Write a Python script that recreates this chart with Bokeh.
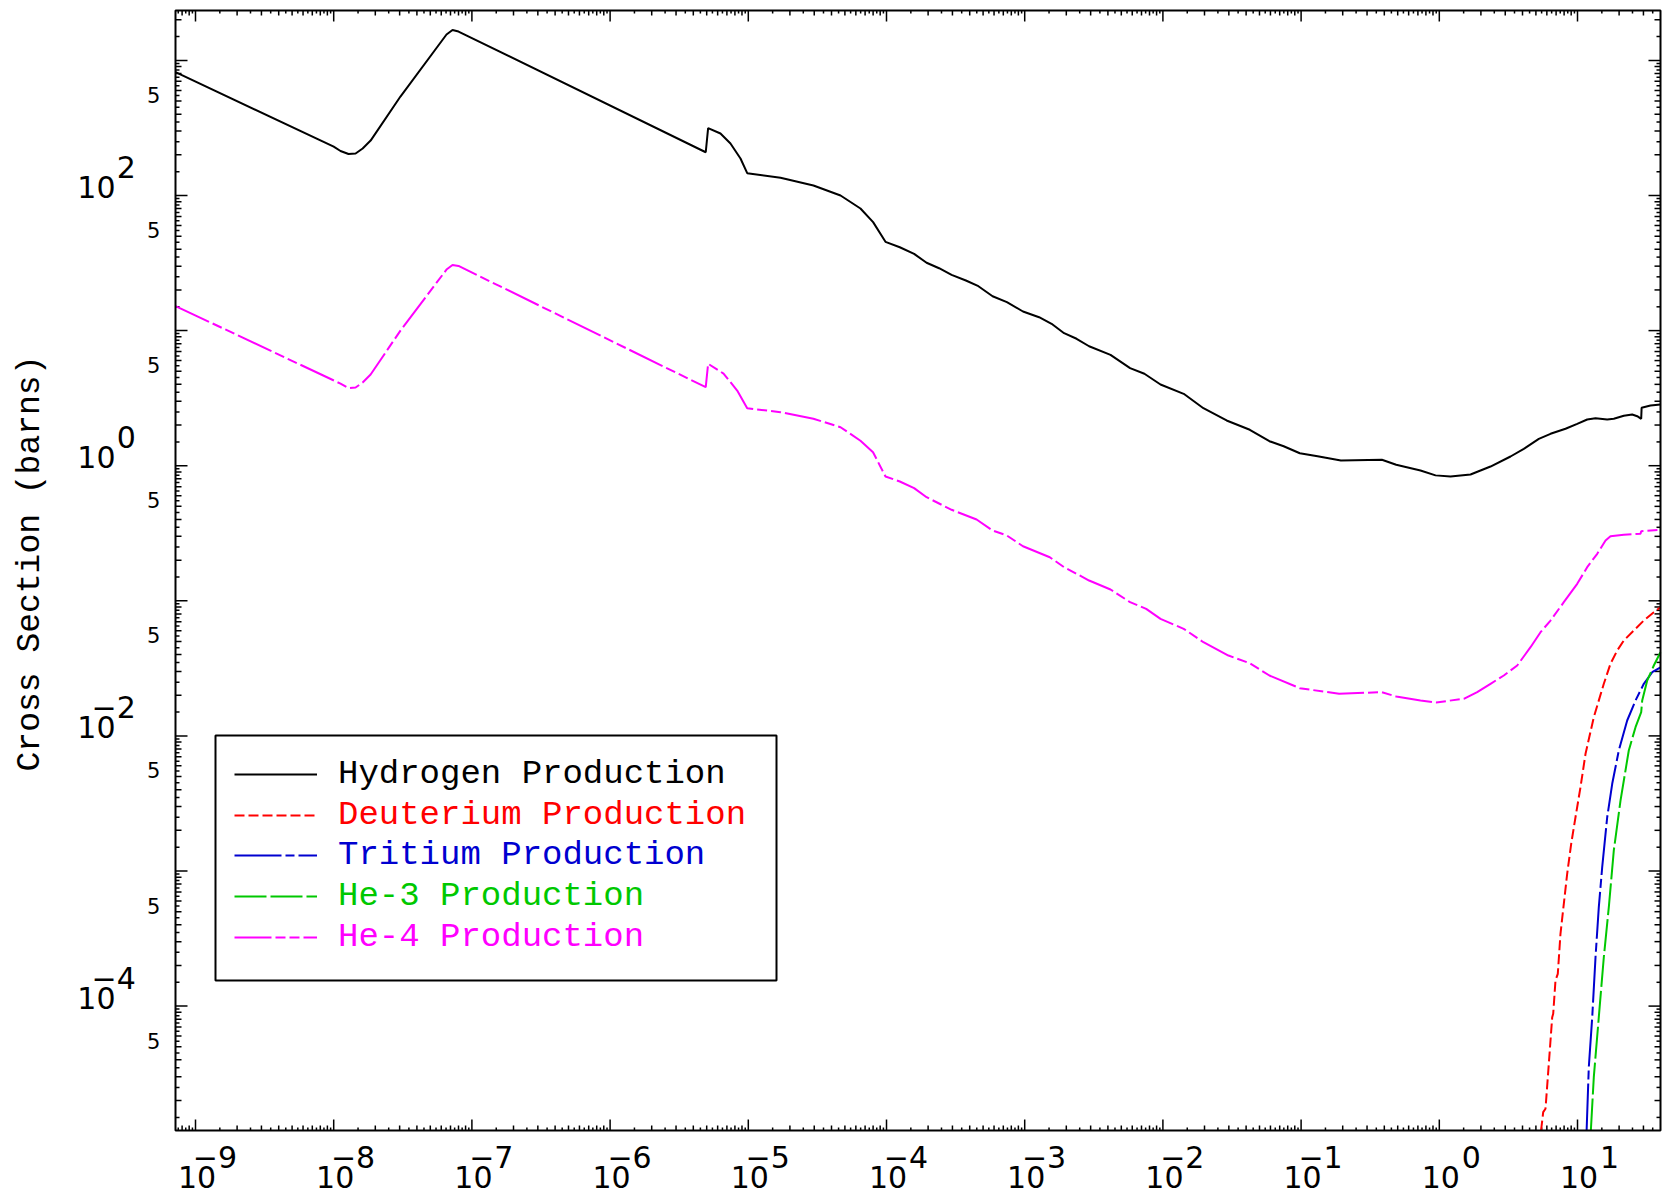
from math import pi, log10
from bokeh.plotting import figure
from bokeh.models import Range1d, Label, Legend, LegendItem, BoxAnnotation
from bokeh.embed import file_html
from bokeh.resources import INLINE

# ---------------- data (energy in MeV, cross section in barns) ----------------
h_energy = [7.17e-10, 1.0e-8, 1.12e-8, 1.28e-8, 1.44e-8, 1.62e-8, 1.85e-8, 3.04e-8,
            6.55e-8, 7.24e-8, 8.0e-8, 4.92e-6, 5.12e-6, 6.29e-6, 7.43e-6, 8.78e-6,
            9.82e-6, 1.71e-5, 2.96e-5, 4.65e-5, 6.48e-5, 8.0e-5, 9.83e-5, 1.248e-4,
            1.584e-4, 1.95e-4, 2.402e-4, 2.958e-4, 3.754e-4, 4.624e-4, 5.856e-4,
            7.434e-4, 9.72e-4, 1.271e-3, 1.565e-3, 1.928e-3, 2.374e-3, 2.924e-3,
            4.177e-3, 5.788e-3, 7.348e-3, 9.61e-3, 1.414e-2, 1.964e-2, 2.89e-2,
            4.254e-2, 5.897e-2, 7.482e-2, 9.79e-2, 0.1316, 0.1941, 0.3843, 0.4876,
            0.731, 0.939, 1.205, 1.682, 2.347, 3.275, 4.087, 5.248, 6.377, 8.19,
            9.95, 11.75, 13.5, 16.4, 18.31, 21.63, 24.88, 27.04, 28.9, 29.1, 33.75,
            39.86]
h_xs = [818, 230, 213.5, 203, 204.5, 223, 255, 540,
        1555, 1680, 1636, 209, 315, 287.6, 242.6, 187.9,
        146.3, 135.2, 118.6, 100, 80.1, 63.5, 45.4, 41.4,
        37.0, 31.8, 28.96, 25.88, 23.49, 21.31, 17.97,
        16.23, 13.85, 12.57, 11.23, 9.57, 8.70, 7.66,
        6.62, 5.27, 4.79, 3.99, 3.405, 2.665, 2.161,
        1.844, 1.518, 1.394, 1.237, 1.176, 1.093, 1.106, 1.016,
        0.922, 0.848, 0.832, 0.861, 0.986, 1.17, 1.334, 1.581, 1.722, 1.876,
        2.042, 2.198, 2.247, 2.198, 2.224, 2.341, 2.393, 2.325, 2.224, 2.683, 2.79,
        2.84]

he4_energy = [7.17e-10, 1.12e-8, 1.28e-8, 1.44e-8, 1.62e-8, 1.85e-8, 3.04e-8, 6.55e-8,
              7.24e-8, 8.0e-8, 4.92e-6, 5.12e-6, 6.62e-6, 8.31e-6, 9.82e-6, 1.71e-5,
              2.96e-5, 4.65e-5, 6.48e-5, 7.99e-5, 9.83e-5, 1.248e-4, 1.584e-4, 1.95e-4,
              2.958e-4, 4.487e-4, 5.856e-4, 7.434e-4, 9.72e-4, 1.519e-3, 1.928e-3,
              2.924e-3, 4.177e-3, 5.788e-3, 7.571e-3, 9.61e-3, 1.414e-2, 1.964e-2,
              2.979e-2, 4.254e-2, 5.897e-2, 9.79e-2, 0.1884, 0.3843, 0.4876, 0.731,
              0.95, 1.504, 1.88, 2.347, 2.929, 3.662, 4.571, 5.4, 6.377, 7.96, 9.95,
              11.75, 13.89, 15.95, 17.33, 21.63, 28.57, 28.9, 39.86]
he4_xs = [15.2, 4.05, 3.75, 3.79, 4.13, 4.73, 10.0, 28.3,
          30.6, 30.1, 3.81, 5.68, 4.81, 3.60, 2.665, 2.489,
          2.224, 1.927, 1.53, 1.259, 0.832, 0.764, 0.6817, 0.5844,
          0.4716, 0.3996, 0.3314, 0.3043, 0.2535, 0.2102, 0.1773,
          0.1413, 0.1213, 0.09765, 0.08724, 0.07357, 0.06204, 0.04938,
          0.03936, 0.03451, 0.028, 0.02254, 0.0205, 0.02106, 0.01957, 0.01828,
          0.0177, 0.01882, 0.02106, 0.0243, 0.028, 0.0332, 0.04535, 0.05856, 0.07145,
          0.09765, 0.1336, 0.1773, 0.2228, 0.2794, 0.3007, 0.3079, 0.3132, 0.3274, 0.3353]

d_energy = [5.45, 5.646, 5.867, 6.2, 6.56, 6.67, 6.93, 7.2, 7.53, 7.96, 8.42, 9.0,
            9.67, 10.51, 11.43, 13.12, 15.5, 17.33, 19.38, 21.63, 25.55, 30.19,
            35.66, 39.86]
d_xs = [1.2e-5, 1.64e-5, 1.74e-5, 3.74e-5, 8.28e-5, 8.77e-5, 1.55e-4, 1.73e-4,
        3.43e-4, 5.72e-4, 9.54e-4, 1.59e-3, 2.50e-3, 4.17e-3, 7.37e-3, 0.01375,
        0.0243, 0.0342, 0.0429, 0.0508, 0.0603, 0.0715, 0.0823, 0.0897]

t_energy = [11.64, 12.07, 12.78, 13.5, 14.26, 15.09, 16.4, 17.83, 19.9, 22.88,
            26.29, 30.19, 34.72, 39.86]
t_xs = [1.2e-5, 3.53e-5, 8.28e-5, 2.30e-4, 5.40e-4, 1.067e-3, 2.50e-3, 4.42e-3,
        7.80e-3, 0.0130, 0.01828, 0.0243, 0.0296, 0.0322]

he3_energy = [12.49, 13.12, 14.26, 15.5, 16.85, 18.31, 20.47, 23.5, 26.29, 28.9,
              29.39, 31.94, 35.66, 39.86]
he3_xs = [1.2e-5, 2.98e-5, 8.28e-5, 2.30e-4, 5.40e-4, 1.42e-3, 3.32e-3, 7.80e-3,
          0.0116, 0.0150, 0.0183, 0.0257, 0.0332, 0.0416]

series_labels = ["Hydrogen Production", "Deuterium Production", "Tritium Production",
                 "He-3 Production", "He-4 Production"]
series_colors = ["#000000", "#ff0000", "#0000d0", "#00c800", "#ff00ff"]
series_dashes = ["solid", "10 4", "47 4 9 4", "32 4", "37 4 10 4 10 4"]

x_label_exponents = [-9, -8, -7, -6, -5, -4, -3, -2, -1, 0, 1]
y_label_exponents = [2, 0, -2, -4]
y_five_values = [500, 50, 5, 0.5, 0.05, 0.005, 5e-4, 5e-5]
y_title = "Cross Section (barns)"

# axis limits of the plotting box
X_MIN, X_MAX = 7.166e-10, 39.86
Y_MIN, Y_MAX = 1.2e-5, 2341.0

# ---------------- layout (pixels on the canvas) ----------------
W, H = 1665, 1196
BOX_L, BOX_R, BOX_T, BOX_B = 175, 1660, 10, 1130

ppd_x = (BOX_R - BOX_L) / (log10(X_MAX) - log10(X_MIN))
ppd_y = (BOX_B - BOX_T) / (log10(Y_MAX) - log10(Y_MIN))
x_lo = 10 ** (log10(X_MIN) - BOX_L / ppd_x)
x_hi = 10 ** (log10(X_MAX) + (W - BOX_R) / ppd_x)
y_lo = 10 ** (log10(Y_MIN) - (H - BOX_B) / ppd_y)
y_hi = 10 ** (log10(Y_MAX) + BOX_T / ppd_y)

p = figure(width=W, height=H, x_axis_type="log", y_axis_type="log",
           x_range=Range1d(x_lo, x_hi), y_range=Range1d(y_lo, y_hi),
           x_axis_location=None, y_axis_location=None,
           output_backend="svg", toolbar_location=None, min_border=0)
p.grid.visible = False
p.outline_line_color = None
p.background_fill_color = "white"
p.border_fill_color = "white"

# ---------------- plot box and ticks ----------------
p.add_layout(BoxAnnotation(left=X_MIN, right=X_MAX, bottom=Y_MIN, top=Y_MAX,
                           fill_alpha=0, line_color="black", line_alpha=1,
                           line_width=2))


def tick_sets(lo, hi):
    majors, ints, halves = [], [], []
    for k in range(-12, 5):
        if lo <= 10.0 ** k <= hi:
            majors.append(10.0 ** k)
        for m in range(2, 10):
            v = m * 10.0 ** k
            if lo < v < hi:
                ints.append(v)
        for m in (1.5, 2.5, 3.5, 4.5, 5.5, 6.5, 7.5, 8.5, 9.5):
            v = m * 10.0 ** k
            if lo < v < hi:
                halves.append(v)
    return majors, ints, halves


xt = tick_sets(X_MIN, X_MAX)
yt = tick_sets(Y_MIN, Y_MAX)
for vals, ln in zip(xt, (11, 5, 3)):
    p.ray(x=vals, y=[Y_MIN] * len(vals), length=ln, length_units="screen",
          angle=pi / 2, line_color="black", line_width=1.5)
    p.ray(x=vals, y=[Y_MAX] * len(vals), length=ln, length_units="screen",
          angle=-pi / 2, line_color="black", line_width=1.5)
for vals, ln in zip(yt, (12, 6, 4)):
    p.ray(x=[X_MIN] * len(vals), y=vals, length=ln, length_units="screen",
          angle=0, line_color="black", line_width=1.5)
    p.ray(x=[X_MAX] * len(vals), y=vals, length=ln, length_units="screen",
          angle=pi, line_color="black", line_width=1.5)

# ---------------- curves ----------------
curve_data = [(h_energy, h_xs), (d_energy, d_xs), (t_energy, t_xs),
              (he3_energy, he3_xs), (he4_energy, he4_xs)]
renderers = []
for (ex, ys), col, dash in zip(curve_data, series_colors, series_dashes):
    renderers.append(p.line(ex, ys, line_color=col, line_width=2, line_dash=dash))

# ---------------- tick labels ----------------
LAB_FONT = "DejaVu Sans"
BIG, SMALL = 30, 21
BIG_SHIFT, SMALL_SHIFT = 10.2, 7.1   # baseline correction of the text box


def exp_text(e):
    return ("\u2212" + str(-e)) if e < 0 else str(e)


for e in x_label_exponents:
    p.add_layout(Label(x=10.0 ** e, y=H - 1187 + BIG_SHIFT, x_units="data",
                       y_units="screen", x_offset=1.5, text="10", text_align="center",
                       text_baseline="alphabetic", text_font=LAB_FONT,
                       text_font_size=f"{BIG}px", text_color="black"))
    p.add_layout(Label(x=10.0 ** e, y=H - 1167 + BIG_SHIFT, x_units="data",
                       y_units="screen", x_offset=41.5, text=exp_text(e),
                       text_align="right", text_baseline="alphabetic",
                       text_font=LAB_FONT, text_font_size=f"{BIG}px",
                       text_color="black"))

for e in y_label_exponents:
    p.add_layout(Label(x=115, y=10.0 ** e, x_units="screen", y_units="data", text="10",
                       y_offset=-1.7 + BIG_SHIFT, text_align="right",
                       text_baseline="alphabetic", text_font=LAB_FONT,
                       text_font_size=f"{BIG}px", text_color="black"))
    p.add_layout(Label(x=135.3, y=10.0 ** e, x_units="screen", y_units="data",
                       text=exp_text(e), y_offset=18.3 + BIG_SHIFT, text_align="right",
                       text_baseline="alphabetic", text_font=LAB_FONT,
                       text_font_size=f"{BIG}px", text_color="black"))

for v in y_five_values:
    p.add_layout(Label(x=159.8, y=v, x_units="screen", y_units="data", text="5",
                       y_offset=-1 + SMALL_SHIFT, text_align="right",
                       text_baseline="alphabetic", text_font=LAB_FONT,
                       text_font_size=f"{SMALL}px", text_color="black"))

p.add_layout(Label(x=30, y=H - 563, x_units="screen", y_units="screen", text=y_title,
                   angle=pi / 2, text_align="center", text_baseline="middle",
                   text_font="Liberation Mono", text_font_size="33px",
                   text_color="black"))

# ---------------- legend ----------------
row_tops = [735 + 17, 735 + 58, 735 + 98, 735 + 139, 735 + 180]
for r, lab, col, yt_ in zip(renderers, series_labels, series_colors, row_tops):
    leg = Legend(items=[LegendItem(label=lab, renderers=[r])],
                 location=(234, H - yt_ - 44),
                 orientation="vertical", glyph_width=83, glyph_height=44,
                 label_height=44, label_standoff=21, padding=0, margin=0, spacing=0,
                 border_line_alpha=0, background_fill_alpha=0,
                 label_text_font="Liberation Mono", label_text_font_size="34px",
                 label_text_color=col)
    p.add_layout(leg)

p.add_layout(BoxAnnotation(left=215, right=776, bottom=H - 980, top=H - 735,
                           left_units="screen", right_units="screen",
                           top_units="screen", bottom_units="screen",
                           fill_alpha=0, line_color="black", line_alpha=1,
                           line_width=2))

open("out.html", "w").write(file_html(p, INLINE))
